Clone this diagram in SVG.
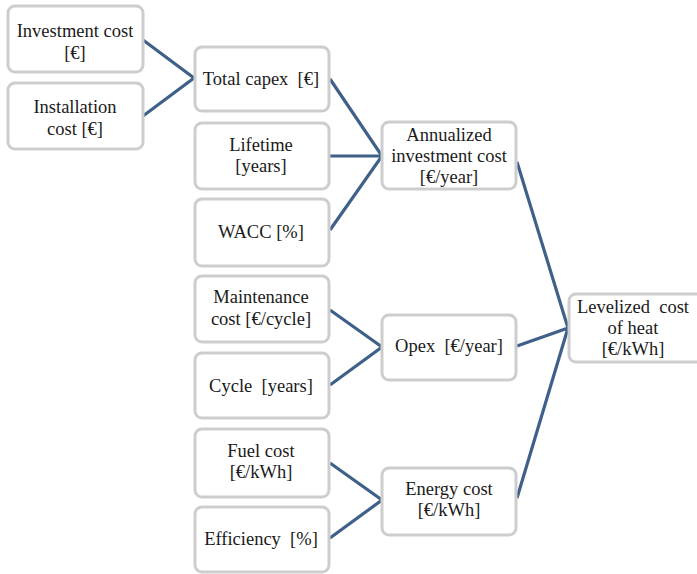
<svg xmlns="http://www.w3.org/2000/svg" width="697" height="574" viewBox="0 0 697 574">
<style>
.box{fill:#fff;stroke:#cdcdcd;stroke-width:3}
.t{font-size:18.5px;fill:#1a1a1a;text-anchor:middle;white-space:pre}
.c{fill:none;stroke:#3f6089;stroke-width:3.2;stroke-linecap:butt}
</style>
<rect width="697" height="574" fill="#fff"/>
<g id="connectors">
<path class="c" d="M143,40 L194,78 L143,116"/>
<path class="c" d="M330,79 L382,156 L330,230 M330,156 L382,156"/>
<path class="c" d="M517,162 L568,328 L517,346 M517,498 L568,328"/>
<path class="c" d="M330,310 L382,347 L330,385"/>
<path class="c" d="M330,463 L382,500 L330,538"/>
</g>
<g font-family="Liberation Serif, Times New Roman, DejaVu Serif, serif">
<g id="investment"><rect class="box" x="8" y="6" width="135" height="66" rx="7"/><text class="t" x="75" y="37">Investment cost</text><text class="t" x="75" y="59">[€]</text></g>
<g id="installation"><rect class="box" x="8" y="83" width="135" height="66" rx="7"/><text class="t" x="75" y="113">Installation</text><text class="t" x="75" y="135">cost [€]</text></g>
<g id="capex"><rect class="box" x="195" y="47" width="134" height="64" rx="7"/><text class="t" x="261" y="85">Total capex  [€]</text></g>
<g id="lifetime"><rect class="box" x="195" y="123" width="134" height="66" rx="7"/><text class="t" x="261" y="151">Lifetime</text><text class="t" x="261" y="172">[years]</text></g>
<g id="wacc"><rect class="box" x="195" y="199" width="134" height="67" rx="7"/><text class="t" x="261" y="238">WACC [%]</text></g>
<g id="annualized"><rect class="box" x="382" y="122" width="134" height="67" rx="7"/><text class="t" x="449" y="141">Annualized</text><text class="t" x="449" y="162">investment cost</text><text class="t" x="449" y="183">[€/year]</text></g>
<g id="maintenance"><rect class="box" x="195" y="276" width="134" height="66" rx="7"/><text class="t" x="261" y="303">Maintenance</text><text class="t" x="261" y="325">cost [€/cycle]</text></g>
<g id="cycle"><rect class="box" x="195" y="353" width="134" height="65" rx="7"/><text class="t" x="261" y="392">Cycle  [years]</text></g>
<g id="fuel"><rect class="box" x="195" y="429" width="134" height="68" rx="7"/><text class="t" x="261" y="457">Fuel cost</text><text class="t" x="261" y="478">[€/kWh]</text></g>
<g id="efficiency"><rect class="box" x="195" y="507" width="134" height="65" rx="7"/><text class="t" x="261" y="545">Efficiency  [%]</text></g>
<g id="opex"><rect class="box" x="382" y="315" width="134" height="65" rx="7"/><text class="t" x="449" y="352">Opex  [€/year]</text></g>
<g id="energy"><rect class="box" x="382" y="468" width="134" height="67" rx="7"/><text class="t" x="449" y="495">Energy cost</text><text class="t" x="449" y="516">[€/kWh]</text></g>
<g id="levelized"><rect class="box" x="569" y="294" width="134" height="68" rx="7"/><text class="t" x="633" y="313">Levelized  cost</text><text class="t" x="633" y="334">of heat</text><text class="t" x="633" y="355">[€/kWh]</text></g>
</g>
</svg>
